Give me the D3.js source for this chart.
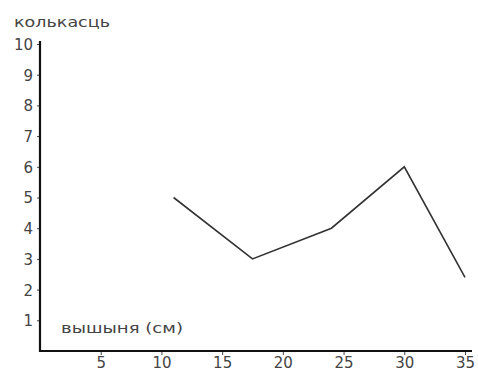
<!DOCTYPE html>
<html><head><meta charset="utf-8">
<script src="https://cdn.jsdelivr.net/npm/d3@7"></script>
<style>body{margin:0;background:#fff}text{font-family:"DejaVu Sans",sans-serif}</style>
</head><body><svg id="c" width="478" height="374"></svg>
<script>
const heights = [11, 17.5, 24, 30, 35];
const counts = [5, 3, 4, 6, 2.4];
const xTicks = [5, 10, 15, 20, 25, 30, 35];
const yTicks = [1, 2, 3, 4, 5, 6, 7, 8, 9, 10];
const yTitle = "колькасць";
const xTitle = "вышыня (см)";

const svg = d3.select("#c");
const x = d3.scaleLinear().domain([0, 35]).range([40, 465]);
const y = d3.scaleLinear().domain([0, 10]).range([351, 44]);

const xAxis = svg.append("g").attr("transform", "translate(0,351)")
  .call(d3.axisBottom(x).tickValues(xTicks).tickSize(4).tickPadding(2).tickSizeOuter(0));
xAxis.select(".domain").remove();
svg.append("line").attr("x1", 39).attr("x2", 472).attr("y1", 351).attr("y2", 351)
  .attr("stroke", "#111").attr("stroke-width", 2.2);
xAxis.selectAll("line").attr("stroke", "#444");
xAxis.selectAll("text").attr("font-size", 15).attr("fill", "#444");

const yAxis = svg.append("g").attr("transform", "translate(40,0)")
  .call(d3.axisLeft(y).tickValues(yTicks).tickSize(3).tickPadding(4).tickSizeOuter(0));
yAxis.select(".domain").remove();
svg.append("line").attr("x1", 40).attr("x2", 40).attr("y1", 41).attr("y2", 352)
  .attr("stroke", "#111").attr("stroke-width", 2.2);
yAxis.selectAll("line").attr("stroke", "#444");
yAxis.selectAll("text").attr("font-size", 15).attr("fill", "#444").attr("dy", "0.36em");

svg.append("text").attr("x", 14).attr("y", 27).attr("font-size", 14).attr("fill", "#444")
  .attr("textLength", 96).attr("lengthAdjust", "spacingAndGlyphs").text(yTitle);
svg.append("text").attr("x", 61).attr("y", 333).attr("font-size", 14).attr("fill", "#444")
  .attr("textLength", 122).attr("lengthAdjust", "spacingAndGlyphs").text(xTitle);

const pts = heights.map((h, i) => [h, counts[i]]);
svg.append("path").datum(pts)
  .attr("d", d3.line().x(d => x(d[0])).y(d => y(d[1])))
  .attr("fill", "none").attr("stroke", "#333").attr("stroke-width", 1.6);
</script></body></html>
